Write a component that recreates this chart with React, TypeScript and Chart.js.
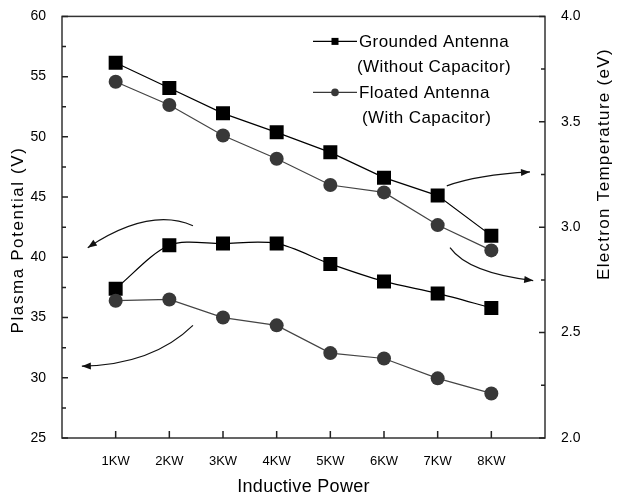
import React, { useEffect, useRef } from 'react';
import { Chart, registerables } from 'chart.js';
Chart.register(...registerables);

const categories = ['1KW', '2KW', '3KW', '4KW', '5KW', '6KW', '7KW', '8KW'];
// Electron temperature (right axis, eV)
const groundedTe = [3.78, 3.66, 3.54, 3.45, 3.355, 3.235, 3.15, 2.96];
const floatedTe = [3.69, 3.58, 3.435, 3.325, 3.2, 3.165, 3.01, 2.89];
// Plasma potential (left axis, V)
const groundedVp = [37.4, 41.0, 41.15, 41.15, 39.45, 38.0, 37.0, 35.8];
const floatedVp = [36.4, 36.5, 35.0, 34.35, 32.05, 31.6, 29.95, 28.7];

const leftRange = [25, 60];
const rightRange = [2.0, 4.0];

const legendLines = [
  ['Grounded Antenna', '(Without Capacitor)'],
  ['Floated Antenna', '(With Capacitor)'],
];
const xTitle = 'Inductive Power';
const leftTitle = 'Plasma Potential (V)';
const rightTitle = 'Electron Temperature (eV)';

// curved arrows (x in category units, y in left-axis units)
const arrows = [
  { from: [2.44, 42.62], ctrl: [1.63, 44.2], to: [0.48, 40.8] },
  { from: [2.44, 34.35], ctrl: [1.69, 31.08], to: [0.37, 30.96] },
  { from: [7.17, 45.93], ctrl: [7.74, 46.85], to: [8.72, 47.09] },
  { from: [7.23, 40.8], ctrl: [7.57, 38.7], to: [8.78, 38.07] },
];

const FONT = '"Liberation Sans", Arial, sans-serif';
const SQ = '#000000';
const CI = '#383838';

const decor = {
  id: 'decor',
  afterDraw(chart: any) {
    const { ctx, chartArea: a, scales } = chart;
    const xs = scales.x, yl = scales.y, yr = scales.y1;
    ctx.save();
    // frame
    ctx.strokeStyle = '#333';
    ctx.lineWidth = 1.5;
    ctx.strokeRect(a.left, a.top, a.right - a.left, a.bottom - a.top);
    // inward ticks
    ctx.strokeStyle = '#222';
    ctx.lineWidth = 1.5;
    ctx.beginPath();
    yl.ticks.forEach((t: any) => {
      const p = yl.getPixelForValue(t.value);
      const len = Math.abs(t.value % 5) < 1e-6 ? 6 : 4;
      ctx.moveTo(a.left, p);
      ctx.lineTo(a.left + len, p);
    });
    yr.ticks.forEach((t: any) => {
      const p = yr.getPixelForValue(t.value);
      const major = Math.abs(t.value * 2 - Math.round(t.value * 2)) < 1e-6;
      const len = major ? 6 : 4;
      ctx.moveTo(a.right, p);
      ctx.lineTo(a.right - len, p);
    });
    xs.ticks.forEach((t: any) => {
      if (t.value >= 1 && t.value <= categories.length) {
        const p = xs.getPixelForValue(t.value);
        ctx.moveTo(p, a.bottom);
        ctx.lineTo(p, a.bottom - 7);
      }
    });
    ctx.stroke();

    // arrows
    ctx.strokeStyle = '#111';
    ctx.fillStyle = '#111';
    ctx.lineWidth = 1.2;
    arrows.forEach((ar) => {
      const fx = xs.getPixelForValue(ar.from[0]), fy = yl.getPixelForValue(ar.from[1]);
      const cx = xs.getPixelForValue(ar.ctrl[0]), cy = yl.getPixelForValue(ar.ctrl[1]);
      const tx = xs.getPixelForValue(ar.to[0]), ty = yl.getPixelForValue(ar.to[1]);
      ctx.beginPath();
      ctx.moveTo(fx, fy);
      ctx.quadraticCurveTo(cx, cy, tx, ty);
      ctx.stroke();
      const ang = Math.atan2(ty - cy, tx - cx);
      const L = 9, W = 3.5;
      ctx.beginPath();
      ctx.moveTo(tx, ty);
      ctx.lineTo(tx - L * Math.cos(ang) + W * Math.sin(ang), ty - L * Math.sin(ang) - W * Math.cos(ang));
      ctx.lineTo(tx - L * Math.cos(ang) - W * Math.sin(ang), ty - L * Math.sin(ang) + W * Math.cos(ang));
      ctx.closePath();
      ctx.fill();
    });

    // legend
    const lx0 = a.left + 251, lx1 = a.left + 295, mx = (lx0 + lx1) / 2;
    const rows = [a.top + 25, a.top + 76];
    ctx.lineWidth = 1.2;
    ctx.font = `17px ${FONT}`;
    ctx.textBaseline = 'middle';
    ctx.textAlign = 'left';
    (ctx as any).letterSpacing = '0.4px';
    rows.forEach((ry, i) => {
      ctx.strokeStyle = i === 0 ? SQ : CI;
      ctx.beginPath();
      ctx.moveTo(lx0, ry);
      ctx.lineTo(lx1, ry);
      ctx.stroke();
      ctx.fillStyle = i === 0 ? SQ : CI;
      if (i === 0) {
        ctx.fillRect(mx - 3.5, ry - 3.5, 7, 7);
      } else {
        ctx.beginPath();
        ctx.arc(mx, ry, 3.8, 0, Math.PI * 2);
        ctx.fill();
      }
      ctx.fillStyle = '#000';
      ctx.fillText(legendLines[i][0], lx1 + 2, ry + 1);
      ctx.fillText(legendLines[i][1], lx1 + (i === 0 ? 0 : 5), ry + 26);
    });

    // titles
    ctx.fillStyle = '#000';
    ctx.textAlign = 'center';
    ctx.textBaseline = 'middle';
    (ctx as any).letterSpacing = '0.3px';
    ctx.font = `18px ${FONT}`;
    ctx.fillText(xTitle, (a.left + a.right) / 2 + 0, 487);

    ctx.save();
    (ctx as any).letterSpacing = '1.6px';
    ctx.font = `17px ${FONT}`;
    ctx.translate(18, 240);
    ctx.rotate(-Math.PI / 2);
    ctx.fillText(leftTitle, 0, 0);
    ctx.restore();

    ctx.save();
    (ctx as any).letterSpacing = '1.3px';
    ctx.font = `17px ${FONT}`;
    ctx.translate(604, 164);
    ctx.rotate(-Math.PI / 2);
    ctx.fillText(rightTitle, 0, 0);
    ctx.restore();

    ctx.restore();
  },
};

const pts = (arr: number[]) => arr.map((v, i) => ({ x: i + 1, y: v }));

export default function App() {
  const ref = useRef<HTMLCanvasElement>(null);
  useEffect(() => {
    if (!ref.current) return;
    const sqStyle = {
      pointStyle: 'rect',
      pointRadius: 9.9,
      pointBackgroundColor: SQ,
      pointBorderColor: SQ,
      pointBorderWidth: 0,
      borderColor: SQ,
      borderWidth: 1.2,
    };
    const ciStyle = {
      pointStyle: 'circle',
      pointRadius: 7,
      pointBackgroundColor: CI,
      pointBorderColor: CI,
      pointBorderWidth: 0,
      borderColor: '#444',
      borderWidth: 1.2,
    };
    const chart = new Chart(ref.current, {
      type: 'line',
      data: {
        datasets: [
          { label: 'Grounded Antenna Te', data: pts(groundedTe), yAxisID: 'y1', order: 2, tension: 0, ...sqStyle } as any,
          { label: 'Floated Antenna Te', data: pts(floatedTe), yAxisID: 'y1', order: 1, tension: 0, ...ciStyle } as any,
          { label: 'Grounded Antenna Vp', data: pts(groundedVp), yAxisID: 'y', order: 2, tension: 0.3, ...sqStyle } as any,
          { label: 'Floated Antenna Vp', data: pts(floatedVp), yAxisID: 'y', order: 1, tension: 0, ...ciStyle } as any,
        ],
      },
      options: {
        responsive: false,
        animation: false,
        devicePixelRatio: 1,
        layout: { padding: { top: 15, left: 0, right: 0, bottom: 0 } },
        plugins: { legend: { display: false }, tooltip: { enabled: false }, title: { display: false } },
        scales: {
          x: {
            type: 'linear',
            position: 'bottom',
            min: 0,
            max: categories.length + 1,
            grid: { display: false },
            border: { display: false },
            ticks: {
              stepSize: 1,
              autoSkip: false,
              maxRotation: 0,
              padding: 8,
              color: '#000',
              font: { size: 13, family: FONT },
              callback: (v: any) => {
                const n = Number(v);
                return Number.isInteger(n) && n >= 1 && n <= categories.length ? categories[n - 1] : '';
              },
            },
            afterFit: (s: any) => { s.height = 60; },
          },
          y: {
            type: 'linear',
            position: 'left',
            min: leftRange[0],
            max: leftRange[1],
            grid: { display: false },
            border: { display: false },
            ticks: {
              stepSize: 2.5,
              autoSkip: false,
              padding: 8,
              color: '#000',
              font: { size: 14, family: FONT },
              callback: (v: any) => (Math.abs(Number(v) % 5) < 1e-6 ? String(v) : ''),
            },
            afterFit: (s: any) => { s.width = 62; },
          },
          y1: {
            type: 'linear',
            position: 'right',
            min: rightRange[0],
            max: rightRange[1],
            grid: { display: false },
            border: { display: false },
            ticks: {
              stepSize: 0.25,
              autoSkip: false,
              padding: 8,
              color: '#000',
              font: { size: 14, family: FONT },
              callback: (v: any) => {
                const n = Number(v);
                return Math.abs(n * 2 - Math.round(n * 2)) < 1e-6 ? n.toFixed(1) : '';
              },
            },
            afterFit: (s: any) => { s.width = 74; },
          },
        },
      } as any,
      plugins: [decor],
    });
    return () => chart.destroy();
  }, []);
  return (
    <div style={{ position: 'absolute', left: 0, top: 0, width: 619, height: 498, background: '#fff' }}>
      <canvas ref={ref} width={619} height={498} style={{ width: 619, height: 498, display: 'block' }} />
    </div>
  );
}
